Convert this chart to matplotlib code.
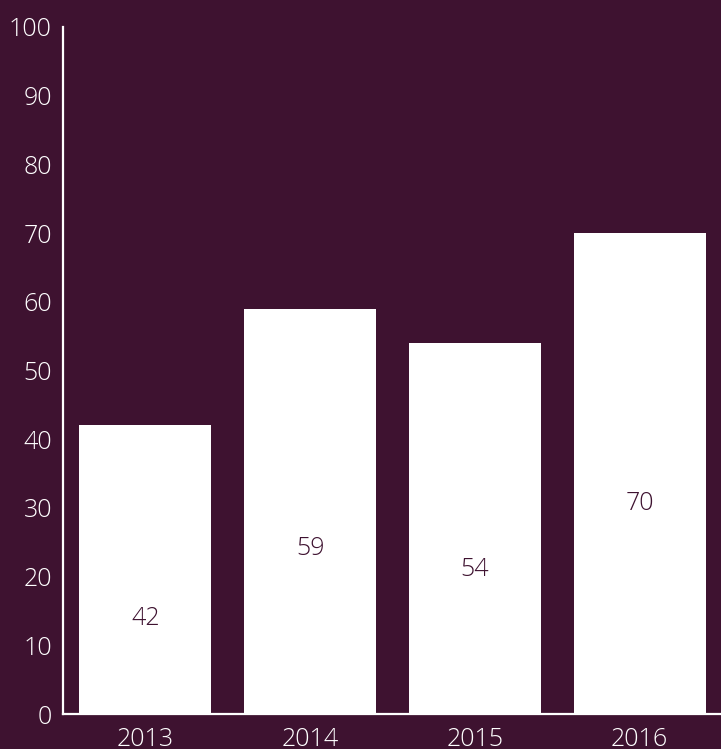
import matplotlib.pyplot as plt

years = ['2013', '2014', '2015', '2016']
values = [42, 59, 54, 70]
y_ticks = [0, 10, 20, 30, 40, 50, 60, 70, 80, 90, 100]

bg = '#3e1230'
fg = 'white'

plt.rcParams['font.family'] = ['Open Sans', 'DejaVu Sans']
plt.rcParams['font.weight'] = 'light'

fig = plt.figure(figsize=(7.21, 7.49), dpi=100, facecolor=bg)
ax = fig.add_axes([63 / 721, 35 / 749, 659 / 721, 687 / 749])
ax.set_facecolor(bg)

x = range(len(years))
ax.bar(x, values, width=0.8, color=fg, zorder=2)

# value labels sit in the lower part of each bar
for i, v in enumerate(values):
    ax.text(i, 0.6 * v - 11.35, str(v), ha='center', va='center',
            fontsize=18, fontweight='light', color=bg, zorder=3)

ax.set_xlim(-0.5, 3.5)
ax.set_ylim(0, 100)
ax.set_xticks(list(x))
ax.set_xticklabels(years)
ax.set_yticks(y_ticks)
ax.tick_params(axis='both', length=0, labelsize=18, labelcolor=fg)
ax.tick_params(axis='y', pad=8)
ax.tick_params(axis='x', pad=9)

for side in ['top', 'right']:
    ax.spines[side].set_visible(False)
for side in ['left', 'bottom']:
    ax.spines[side].set_color(fg)
    ax.spines[side].set_linewidth(1.6)
    ax.spines[side].set_zorder(4)

fig.savefig('out.png', dpi=100, facecolor=bg)
